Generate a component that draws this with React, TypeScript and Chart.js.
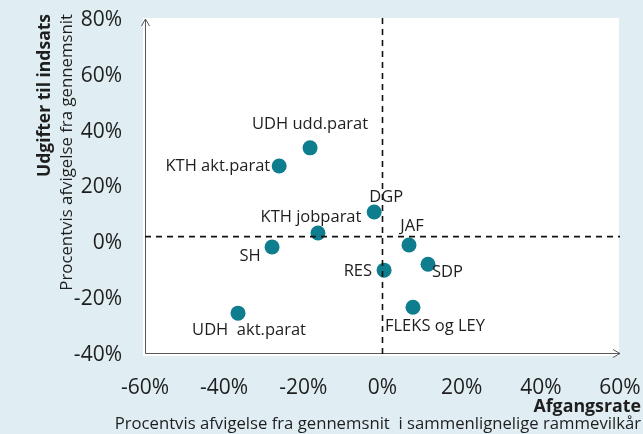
import React, { useEffect, useRef } from "react";
import { Chart, registerables } from "chart.js";

Chart.register(...registerables);

const categories = [
  "UDH udd.parat",
  "KTH akt.parat",
  "DGP",
  "KTH jobparat",
  "JAF",
  "SH",
  "SDP",
  "RES",
  "FLEKS og LEY",
  "UDH  akt.parat",
];
const afgangsrate = [-18.3, -26.1, -2.1, -16.3, 6.7, -27.9, 11.5, 0.4, 7.7, -36.5];
const udgifter = [34.2, 27.7, 11.2, 3.7, -0.6, -1.3, -7.5, -9.6, -22.9, -25.0];
const refX = 0;
const refY = 2.4;
const xRange = [-60, 60];
const yRange = [-40, 80];
const tickStep = 20;

const yTitle = "Udgifter til indsats";
const ySubtitle = "Procentvis afvigelse fra gennemsnit";
const xTitle = "Afgangsrate";
const xSubtitle = "Procentvis afvigelse fra gennemsnit  i sammenlignelige rammevilkår";

// label placement (style)
const labelPlacement = [
  { align: "center", dx: 0, dy: -24 },
  { align: "right", dx: -9, dy: 0 },
  { align: "center", dx: 12, dy: -15 },
  { align: "center", dx: -7, dy: -16 },
  { align: "center", dx: 3, dy: -19 },
  { align: "center", dx: -22, dy: 9 },
  { align: "left", dx: 4, dy: 8 },
  { align: "right", dx: -12, dy: 1 },
  { align: "left", dx: -28, dy: 19 },
  { align: "center", dx: 11, dy: 17 },
];

const FONT = "'Open Sans', 'Noto Sans', sans-serif";
const TEXT = "#1e1e1e";
const TEAL = "#0e7d8d";
const BG = "#e0eef3";

const decorPlugin = {
  id: "decor",
  beforeDraw(chart: any) {
    const { ctx, chartArea } = chart;
    ctx.save();
    ctx.fillStyle = BG;
    ctx.fillRect(0, 0, chart.width, chart.height);
    ctx.fillStyle = "#ffffff";
    ctx.fillRect(chartArea.left - 2, chartArea.top - 2, chartArea.right - chartArea.left + 1, chartArea.bottom - chartArea.top + 3);
    ctx.restore();
  },
  beforeDatasetsDraw(chart: any) {
    const { ctx, chartArea } = chart;
    const { left, right, top, bottom } = chartArea;
    ctx.save();
    ctx.strokeStyle = "#595959";
    ctx.lineWidth = 1;
    const ax = left + 0.5;
    const ay = bottom - 1.5;
    ctx.beginPath();
    ctx.moveTo(ax, ay);
    ctx.lineTo(ax, top - 1);
    ctx.moveTo(ax - 4, top + 6);
    ctx.lineTo(ax, top - 1);
    ctx.lineTo(ax + 4, top + 6);
    ctx.moveTo(ax, ay);
    ctx.lineTo(right, ay);
    ctx.moveTo(right - 7, ay - 4);
    ctx.lineTo(right, ay);
    ctx.lineTo(right - 7, ay + 4);
    ctx.stroke();
    ctx.restore();
  },
  afterDatasetsDraw(chart: any) {
    const { ctx, chartArea, scales } = chart;
    const x0 = scales.x.getPixelForValue(refX);
    const y0 = scales.y.getPixelForValue(refY);
    ctx.save();
    ctx.strokeStyle = "#111";
    ctx.lineWidth = 1.6;
    ctx.setLineDash([6, 5]);
    ctx.beginPath();
    ctx.moveTo(x0, chartArea.top - 2);
    ctx.lineTo(x0, chartArea.bottom + 1);
    ctx.moveTo(chartArea.left, y0);
    ctx.lineTo(chartArea.right, y0);
    ctx.stroke();
    ctx.restore();
  },
  afterDraw(chart: any) {
    const { ctx, scales } = chart;
    ctx.save();
    ctx.fillStyle = TEXT;
    ctx.textBaseline = "middle";
    ctx.font = `16.5px ${FONT}`;
    categories.forEach((c, i) => {
      const px = scales.x.getPixelForValue(afgangsrate[i]);
      const py = scales.y.getPixelForValue(udgifter[i]);
      const p = labelPlacement[i];
      ctx.textAlign = p.align;
      ctx.fillText(c, px + p.dx, py + p.dy);
    });

    // y titles
    ctx.save();
    ctx.translate(45, 14);
    ctx.rotate(-Math.PI / 2);
    ctx.textAlign = "right";
    ctx.font = `bold 17.5px ${FONT}`;
    ctx.fillText(yTitle, 0, 0);
    ctx.restore();
    ctx.save();
    ctx.translate(67, 14);
    ctx.rotate(-Math.PI / 2);
    ctx.textAlign = "right";
    ctx.font = `16.8px ${FONT}`;
    ctx.fillText(ySubtitle, 0, 0);
    ctx.restore();

    // x titles
    ctx.textAlign = "right";
    ctx.font = `bold 17.8px ${FONT}`;
    ctx.fillText(xTitle, 641, 407);
    ctx.font = `16.7px ${FONT}`;
    ctx.fillText(xSubtitle, 641, 424);
    ctx.restore();
  },
};

export default function App() {
  const ref = useRef<HTMLCanvasElement | null>(null);
  useEffect(() => {
    if (!ref.current) return;
    const chart = new Chart(ref.current, {
      type: "scatter",
      data: {
        datasets: [
          {
            data: afgangsrate.map((x, i) => ({ x, y: udgifter[i] })),
            backgroundColor: TEAL,
            borderColor: TEAL,
            borderWidth: 0,
            pointRadius: 7.5,
            pointHoverRadius: 7.5,
          },
        ],
      },
      options: {
        animation: false,
        responsive: false,
        events: [],
        layout: { padding: { top: 20, right: 23, left: 0, bottom: 0 } },
        plugins: { legend: { display: false }, tooltip: { enabled: false }, title: { display: false } },
        scales: {
          x: {
            type: "linear",
            min: xRange[0],
            max: xRange[1],
            grid: { display: false, drawTicks: false },
            border: { display: false },
            ticks: {
              stepSize: tickStep,
              padding: 20,
              color: TEXT,
              font: { family: FONT, size: 21 },
              callback: (v: any) => `${v}%`,
            },
            afterFit: (s: any) => {
              s.height = 79;
              s.paddingLeft = 0;
              s.paddingRight = 0;
            },
          },
          y: {
            type: "linear",
            min: yRange[0],
            max: yRange[1],
            grid: { display: false, drawTicks: false },
            border: { display: false },
            ticks: {
              stepSize: tickStep,
              padding: 23,
              color: TEXT,
              font: { family: FONT, size: 21 },
              callback: (v: any) => `${v}%`,
            },
            afterFit: (s: any) => {
              s.width = 145;
              s.paddingTop = 0;
              s.paddingBottom = 0;
            },
          },
        },
      },
      plugins: [decorPlugin],
    });
    return () => chart.destroy();
  }, []);
  return (
    <div style={{ position: "fixed", left: 0, top: 0, width: 643, height: 434, background: BG }}>
      <canvas ref={ref} width={643} height={434} style={{ display: "block", width: 643, height: 434 }} />
    </div>
  );
}
